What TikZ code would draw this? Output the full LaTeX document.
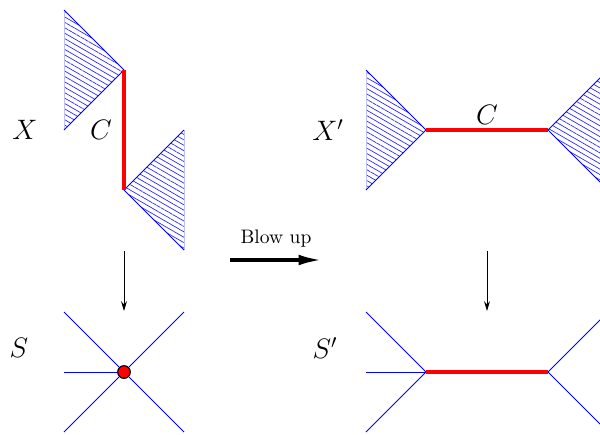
\documentclass[tikz,border=0pt]{standalone}
\usepackage{amsmath,amssymb}
\usepackage{tikz}
\usetikzlibrary{arrows.meta,patterns.meta}

\begin{document}
\begin{tikzpicture}[x=0.018cm, y=-0.018cm,
  lbl/.style={font=\Large, inner sep=1pt},
  wing/.style={pattern={Lines[angle=-30, distance=2.4pt, line width=0.35pt]}, pattern color=blue!85},
  rim/.style={draw=blue, line width=0.5pt},
  faint/.style={draw=blue!25, line width=0.5pt},
  branch/.style={draw=blue, line width=0.5pt},
  exc/.style={draw=red, line width=1.7pt},
  pt/.style={circle, draw=black, fill=red, inner sep=0pt, minimum size=6.4pt, line width=0.5pt},
  map/.style={-{Stealth[length=5pt,width=3pt]}, line width=0.4pt},
  blow/.style={-{Latex[length=12pt,width=5.5pt]}, line width=1.8pt}]
\clip (0,0) rectangle (600,434);
% X with the curve C
\coordinate (c1) at (124,70);
\coordinate (c2) at (124,190);
\fill[wing] (64,10) -- (c1) -- (64,130) -- cycle;
\draw[faint] (64,10) -- (64,130);
\draw[rim] (64,10) -- (c1) -- (64,130);
\fill[wing] (184,130) -- (c2) -- (184,250) -- cycle;
\draw[faint] (184,130) -- (184,250);
\draw[rim] (184,130) -- (c2) -- (184,250);
\draw[exc] (c1) -- (c2);
\node[lbl] (X) at (25,130) {$X$};
\node[lbl] (C) at (101,130) {$C$};
% map X -> S
\coordinate (m1) at (124,251);
\coordinate (m2) at (124,311);
\draw[map] (m1) -- (m2);
% S
\node[pt] (o) at (124,372) {};
\draw[branch] (64,312) -- (o.center) -- (184,432);
\draw[branch] (64,432) -- (o.center) -- (184,312);
\draw[branch] (64,372) -- (o.center);
\node[pt] at (o) {};
\node[lbl] (S) at (19,348) {$S$};
% blow up
\coordinate (b1) at (230,260);
\coordinate (b2) at (322,260);
\draw[blow] (b1) -- (b2);
\node (bl) at (276,239) {Blow up};
% X'
\coordinate (d1) at (426,130);
\coordinate (d2) at (548,130);
\fill[wing] (366,70) -- (d1) -- (366,190) -- cycle;
\draw[faint] (366,70) -- (366,190);
\draw[rim] (366,70) -- (d1) -- (366,190);
\fill[wing] (608,70) -- (d2) -- (608,190) -- cycle;
\draw[rim] (608,70) -- (d2) -- (608,190);
\draw[exc] (d1) -- (d2);
\node[lbl] (Xp) at (328,130) {$X'$};
\node[lbl] (Cp) at (487,115) {$C$};
% map X' -> S'
\coordinate (n1) at (487,251);
\coordinate (n2) at (487,311);
\draw[map] (n1) -- (n2);
% S'
\coordinate (e1) at (426,372);
\coordinate (e2) at (548,372);
\draw[branch] (366,312) -- (e1) -- (366,432);
\draw[branch] (366,372) -- (e1);
\draw[branch] (608,312) -- (e2) -- (608,432);
\draw[exc] (e1) -- (e2);
\node[lbl] (Sp) at (325,348) {$S'$};
\end{tikzpicture}
\end{document}
